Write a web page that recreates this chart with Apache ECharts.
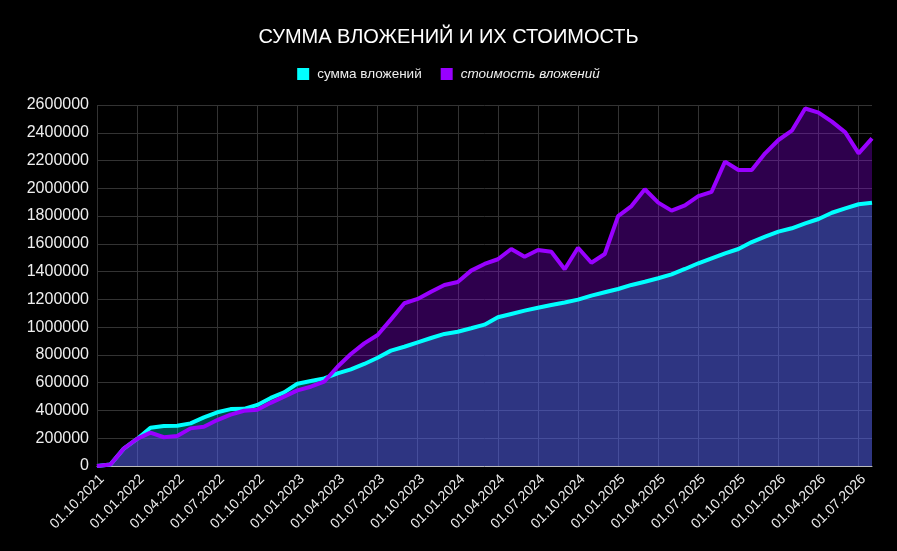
<!DOCTYPE html>
<html>
<head>
<meta charset="utf-8">
<title>Сумма вложений и их стоимость</title>
<script src="https://cdn.jsdelivr.net/npm/echarts@6/dist/echarts.min.js"></script>
<style>
  html, body { margin: 0; padding: 0; background: #000; }
  #chart { width: 897px; height: 551px; }
</style>
</head>
<body>
<div id="chart"></div>
<script>
// месяцы, 01.10.2021 - 01.08.2026
const months = [
  "01.10.2021", "01.11.2021", "01.12.2021",
  "01.01.2022", "01.02.2022", "01.03.2022", "01.04.2022", "01.05.2022", "01.06.2022",
  "01.07.2022", "01.08.2022", "01.09.2022", "01.10.2022", "01.11.2022", "01.12.2022",
  "01.01.2023", "01.02.2023", "01.03.2023", "01.04.2023", "01.05.2023", "01.06.2023",
  "01.07.2023", "01.08.2023", "01.09.2023", "01.10.2023", "01.11.2023", "01.12.2023",
  "01.01.2024", "01.02.2024", "01.03.2024", "01.04.2024", "01.05.2024", "01.06.2024",
  "01.07.2024", "01.08.2024", "01.09.2024", "01.10.2024", "01.11.2024", "01.12.2024",
  "01.01.2025", "01.02.2025", "01.03.2025", "01.04.2025", "01.05.2025", "01.06.2025",
  "01.07.2025", "01.08.2025", "01.09.2025", "01.10.2025", "01.11.2025", "01.12.2025",
  "01.01.2026", "01.02.2026", "01.03.2026", "01.04.2026", "01.05.2026", "01.06.2026",
  "01.07.2026", "01.08.2026"
];

// сумма вложений
const invested = [
  0, 10000, 125000,
  195000, 276000, 288000, 290000, 307000, 350000,
  387000, 410000, 412000, 440000, 490000, 530000,
  593000, 612000, 631000, 667000, 696000, 735000,
  780000, 831000, 859000, 891000, 922000, 951000,
  967000, 992000, 1018000, 1071000, 1095000, 1119000,
  1140000, 1160000, 1178000, 1198000, 1227000, 1251000,
  1275000, 1304000, 1327000, 1352000, 1380000, 1419000,
  1460000, 1496000, 1532000, 1563000, 1613000, 1652000,
  1688000, 1712000, 1748000, 1779000, 1824000, 1856000,
  1885000, 1896000
];

// стоимость вложений
const value = [
  0, 10000, 125000,
  195000, 240000, 207000, 216000, 271000, 283000,
  331000, 370000, 398000, 405000, 455000, 500000,
  545000, 571000, 607000, 715000, 807000, 883000,
  943000, 1056000, 1172000, 1203000, 1255000, 1304000,
  1325000, 1407000, 1455000, 1489000, 1563000, 1507000,
  1556000, 1543000, 1417000, 1572000, 1464000, 1527000,
  1800000, 1872000, 1993000, 1897000, 1839000, 1877000,
  1944000, 1975000, 2192000, 2132000, 2132000, 2252000,
  2348000, 2415000, 2575000, 2545000, 2480000, 2403000,
  2252000, 2360000
];

const cyan = "#00ffff";
const purple = "#9900ff";

const chart = echarts.init(document.getElementById("chart"));

const option = {
  backgroundColor: "#000",
  textStyle: { fontFamily: "Arial, 'Liberation Sans', sans-serif" },
  title: {
    text: "СУММА ВЛОЖЕНИЙ И ИХ СТОИМОСТЬ",
    left: "center",
    top: 22,
    textStyle: { color: "#fff", fontSize: 20, fontWeight: "normal" }
  },
  legend: {
    top: 62,
    left: "center",
    icon: "rect",
    itemWidth: 12,
    itemHeight: 12,
    itemGap: 19,
    textStyle: { color: "#eee", fontSize: 13.5, padding: [0, 0, 0, 3] },
    data: [
      { name: "сумма вложений" },
      { name: "стоимость вложений", textStyle: { fontStyle: "italic" } }
    ]
  },
  grid: { left: 97, right: 25, top: 105, bottom: 85 },
  xAxis: {
    type: "category",
    data: months,
    boundaryGap: false,
    axisTick: { show: false },
    axisLine: { lineStyle: { color: "#bbb" } },
    axisLabel: {
      color: "#eee",
      fontSize: 14,
      rotate: 45,
      interval: 2,
      margin: 6,
      verticalAlign: "top"
    },
    splitLine: { show: true, interval: 2, lineStyle: { color: "#333" } }
  },
  yAxis: {
    type: "value",
    min: 0,
    max: 2600000,
    interval: 200000,
    axisLabel: {
      color: "#eee",
      fontSize: 16,
      margin: 8,
      formatter: (v) => String(v)
    },
    splitLine: { lineStyle: { color: "#333" } }
  },
  series: [
    {
      name: "сумма вложений",
      type: "line",
      data: invested,
      showSymbol: false,
      color: cyan,
      lineStyle: { width: 4, color: cyan },
      areaStyle: { color: cyan, opacity: 0.3 }
    },
    {
      name: "стоимость вложений",
      type: "line",
      data: value,
      showSymbol: false,
      color: purple,
      lineStyle: { width: 4, color: purple },
      areaStyle: { color: purple, opacity: 0.3 }
    }
  ]
};

chart.setOption(option);
</script>
</body>
</html>
